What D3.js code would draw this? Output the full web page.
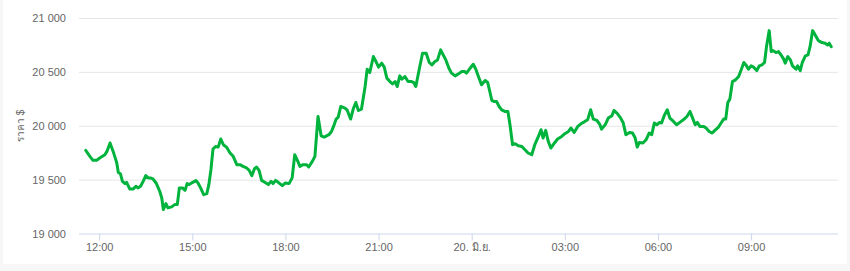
<!DOCTYPE html>
<html>
<head>
<meta charset="utf-8">
<script src="https://cdn.jsdelivr.net/npm/d3@7/dist/d3.min.js"></script>
<style>
  html, body { margin: 0; padding: 0; background: #f7f7f7; }
  svg { display: block; }
  text { font-family: "Liberation Sans", Arial, sans-serif; }
</style>
</head>
<body>
<svg id="chart" width="850" height="271"></svg>
<script>
// ---- data ----
const times = [
 "19 11:34","19 11:42","19 11:48","19 11:55","19 12:01","19 12:11","19 12:15","19 12:21","19 12:27","19 12:34",
 "19 12:37","19 12:41","19 12:45","19 12:50","19 12:53","19 12:59","19 13:06","19 13:11","19 13:15","19 13:20",
 "19 13:25","19 13:30","19 13:35","19 13:39","19 13:44","19 13:50","19 13:57","19 14:01","19 14:04","19 14:09",
 "19 14:13","19 14:20","19 14:26","19 14:31","19 14:35","19 14:41","19 14:46","19 14:50","19 14:54","19 15:01",
 "19 15:07","19 15:11","19 15:16","19 15:22","19 15:28","19 15:32","19 15:36","19 15:40","19 15:45","19 15:50",
 "19 15:55","19 16:00","19 16:06","19 16:13","19 16:19","19 16:26","19 16:32","19 16:38","19 16:45","19 16:50",
 "19 16:55","19 17:00","19 17:04","19 17:09","19 17:14","19 17:20","19 17:27","19 17:32","19 17:36","19 17:41",
 "19 17:46","19 17:54","19 18:00","19 18:07","19 18:13","19 18:18","19 18:24","19 18:28","19 18:34","19 18:41",
 "19 18:45","19 18:52","19 18:57","19 19:03","19 19:09","19 19:15","19 19:24","19 19:29","19 19:33","19 19:38",
 "19 19:42","19 19:47","19 19:55","19 19:59","19 20:06","19 20:11","19 20:16","19 20:21","19 20:27","19 20:34",
 "19 20:38","19 20:43","19 20:50","19 20:55","19 21:00","19 21:06","19 21:11","19 21:16","19 21:22","19 21:27",
 "19 21:32","19 21:36","19 21:41","19 21:45","19 21:51","19 21:57","19 22:04","19 22:08","19 22:12","19 22:19",
 "19 22:25","19 22:32","19 22:38","19 22:43","19 22:49","19 22:54","19 23:00","19 23:05","19 23:10","19 23:16",
 "19 23:21","19 23:28","19 23:34","19 23:41","19 23:46","19 23:50","19 23:57","20 00:03","20 00:08","20 00:13",
 "20 00:19","20 00:26","20 00:31","20 00:35","20 00:39","20 00:44","20 00:48","20 00:53","20 00:58","20 01:04",
 "20 01:10","20 01:14","20 01:19","20 01:24","20 01:30","20 01:37","20 01:43","20 01:49","20 01:56","20 02:02",
 "20 02:09","20 02:14","20 02:18","20 02:23","20 02:28","20 02:33","20 02:40","20 02:46","20 02:54","20 03:00",
 "20 03:07","20 03:12","20 03:18","20 03:25","20 03:33","20 03:37","20 03:44","20 03:50","20 03:55","20 04:02",
 "20 04:07","20 04:11","20 04:18","20 04:24","20 04:31","20 04:35","20 04:42","20 04:48","20 04:53","20 04:58",
 "20 05:05","20 05:11","20 05:16","20 05:20","20 05:24","20 05:31","20 05:37","20 05:43","20 05:48","20 05:53",
 "20 05:58","20 06:03","20 06:07","20 06:12","20 06:18","20 06:23","20 06:30","20 06:36","20 06:43","20 06:49",
 "20 06:56","20 07:02","20 07:07","20 07:12","20 07:16","20 07:21","20 07:28","20 07:33","20 07:39","20 07:45",
 "20 07:50","20 07:57","20 08:02","20 08:07","20 08:11","20 08:15","20 08:19","20 08:24","20 08:30","20 08:36",
 "20 08:42","20 08:46","20 08:50","20 08:55","20 09:00","20 09:05","20 09:11","20 09:16","20 09:21","20 09:26",
 "20 09:30","20 09:35","20 09:39","20 09:43","20 09:48","20 09:53","20 09:58","20 10:03","20 10:06","20 10:11",
 "20 10:16","20 10:20","20 10:27","20 10:30","20 10:35","20 10:39","20 10:45","20 10:50","20 10:54","20 10:59",
 "20 11:04","20 11:10","20 11:17","20 11:23","20 11:28","20 11:31","20 11:35"
];
const prices = [
 19771,19716,19679,19679,19701,19731,19762,19840,19762,19655,
 19567,19555,19484,19463,19475,19414,19414,19438,19423,19438,
 19484,19537,19516,19516,19506,19469,19392,19330,19222,19278,
 19238,19247,19268,19268,19423,19423,19401,19463,19454,19475,
 19491,19469,19423,19361,19370,19454,19592,19784,19808,19802,
 19877,19824,19802,19747,19716,19639,19639,19623,19608,19586,
 19537,19599,19617,19586,19493,19475,19454,19484,19463,19493,
 19475,19444,19469,19463,19516,19731,19669,19623,19639,19639,
 19617,19669,19716,20086,19907,19895,19917,19947,19994,20062,
 20080,20179,20164,20148,20062,20155,20216,20142,20155,20364,
 20525,20494,20642,20596,20544,20581,20544,20442,20410,20389,
 20410,20364,20463,20432,20457,20410,20410,20401,20364,20534,
 20673,20673,20587,20565,20596,20611,20704,20657,20611,20534,
 20488,20463,20481,20503,20503,20488,20534,20571,20525,20457,
 20380,20420,20401,20318,20234,20225,20225,20179,20148,20133,
 20133,20009,19824,19833,19815,19808,19778,19747,19731,19824,
 19901,19963,19886,19957,19855,19793,19840,19877,19901,19926,
 19947,19979,19938,19994,20025,20034,20055,20148,20062,20049,
 20018,19969,20009,20071,20093,20142,20111,20071,20025,19917,
 19938,19932,19886,19802,19845,19840,19870,19932,19917,20025,
 20009,20031,20025,20093,20148,20071,20040,20009,20034,20055,
 20086,20133,20071,20009,20031,19994,19994,19979,19947,19932,
 19957,19988,20025,20062,20062,20216,20247,20410,20426,20457,
 20534,20587,20565,20525,20556,20544,20512,20556,20565,20587,
 20741,20883,20688,20697,20679,20688,20657,20618,20581,20642,
 20611,20556,20525,20556,20512,20587,20648,20657,20734,20883,
 20843,20790,20772,20766,20750,20766,20734
];
const yTicks = [19000, 19500, 20000, 20500, 21000];
const yTitle = "ราคา $";
const dayLabel = "20. มิ.ย.";
const domainStart = "19 11:21";
const domainEnd = "20 11:48";

// ---- chart ----
const parse = d3.timeParse("%Y-%m-%d %H:%M");
const toDate = s => parse("2022-06-" + s);
const data = times.map((t, i) => ({ t: toDate(t), v: prices[i] }));

const svg = d3.select("#chart");
svg.append("rect").attr("x", 3).attr("y", 0).attr("width", 844).attr("height", 264).attr("fill", "#ffffff");

const plotLeft = 79, plotRight = 838, plotTop = 18, plotBottom = 233.5;
const x = d3.scaleTime().domain([toDate(domainStart), toDate(domainEnd)]).range([plotLeft, plotRight]);
const y = d3.scaleLinear().domain([19000, 21000]).range([plotBottom, plotTop]);

const fmtNum = v => d3.format(",")(v).replace(/,/g, " ");

// grid + y labels
const yAxis = svg.append("g").attr("transform", `translate(${plotLeft},0)`)
  .call(d3.axisLeft(y).tickValues(yTicks).tickSize(-(plotRight - plotLeft)).tickPadding(13).tickFormat(fmtNum));
yAxis.select(".domain").remove();
yAxis.selectAll(".tick line").attr("stroke", d => d === 19000 ? "#ccd6eb" : "#e6e6e6").attr("stroke-width", 1);
yAxis.selectAll(".tick text").attr("fill", "#666666").style("font-size", "11px")
  .style("font-family", '"Liberation Sans", Arial, sans-serif').attr("dy", "0.35em");

// x axis
const xTickVals = x.ticks(d3.timeHour.every(3));
const fmtTime = d3.timeFormat("%H:%M");
const xAxis = svg.append("g").attr("transform", `translate(0,${plotBottom})`)
  .call(d3.axisBottom(x).tickValues(xTickVals).tickSize(7).tickPadding(3)
    .tickFormat(d => (d.getHours() === 0 ? dayLabel : fmtTime(d))));
xAxis.select(".domain").remove();
xAxis.selectAll(".tick line").attr("stroke", "#ccd6eb");
xAxis.selectAll(".tick text").attr("fill", "#666666").style("font-size", "11px")
  .style("font-family", '"Liberation Sans", Arial, sans-serif');

// y title
svg.append("text")
  .attr("transform", `translate(20,${(plotTop + plotBottom) / 2}) rotate(-90)`)
  .attr("text-anchor", "middle").attr("dy", "0.35em")
  .attr("fill", "#666666").style("font-size", "10px")
  .text(yTitle);

// line
const line = d3.line().x(d => x(d.t)).y(d => y(d.v));
svg.append("path").datum(data)
  .attr("fill", "none").attr("stroke", "#00b33c").attr("stroke-width", 3)
  .attr("stroke-linejoin", "round").attr("stroke-linecap", "round")
  .attr("d", line);
</script>
</body>
</html>
